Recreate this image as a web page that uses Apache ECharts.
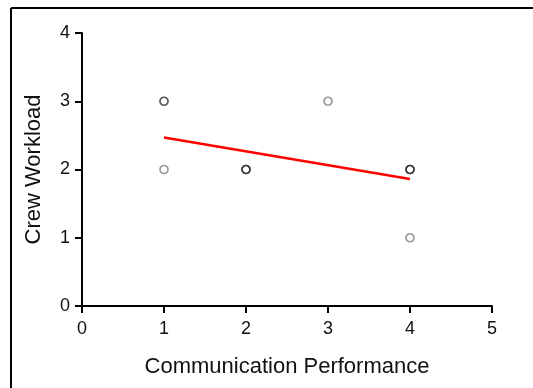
<!DOCTYPE html>
<html><head><meta charset="utf-8">
<script src="https://cdn.jsdelivr.net/npm/echarts@6/dist/echarts.min.js"></script>
<style>html,body{margin:0;padding:0;background:#fff}#c{width:533px;height:388px}</style>
</head><body><div id="c"></div>
<script>
// Data (duplicates = overlapping observations, darker where overlapping)
const commPerf   = [1, 1, 1, 2, 2, 2, 3, 4, 4, 4, 4];
const crewLoad   = [3, 3, 2, 2, 2, 2, 3, 2, 2, 2, 1];
const fitX = [1, 4];
const fitY = [2.47, 1.86];
const xTicks = [0, 1, 2, 3, 4, 5];
const yTicks = [0, 1, 2, 3, 4];

const chart = echarts.init(document.getElementById('c'));
const font = 'Liberation Sans, Arial, sans-serif';
chart.setOption({
  animation: false,
  grid: {left: 82, top: 33, right: 41, bottom: 82},
  xAxis: {
    type: 'value', min: xTicks[0], max: xTicks[xTicks.length-1], interval: 1,
    name: 'Communication Performance', nameLocation: 'middle', nameGap: 50,
    nameTextStyle: {fontFamily: font, fontSize: 22, color: '#111'},
    axisLine: {lineStyle: {color: '#000', width: 2}},
    axisTick: {show: true, length: 7, lineStyle: {color: '#000', width: 2}},
    axisLabel: {fontFamily: font, fontSize: 18, color: '#111', margin: 14},
    splitLine: {show: false}
  },
  yAxis: {
    type: 'value', min: yTicks[0], max: yTicks[yTicks.length-1], interval: 1,
    name: 'Crew Workload', nameLocation: 'middle', nameGap: 37,
    nameTextStyle: {fontFamily: font, fontSize: 22, color: '#111'},
    axisLine: {show: true, lineStyle: {color: '#000', width: 2}},
    axisTick: {show: true, length: 7, lineStyle: {color: '#000', width: 2}},
    axisLabel: {fontFamily: font, fontSize: 18, color: '#111', margin: 12},
    splitLine: {show: false}
  },
  graphic: [
    {type: 'line', shape: {x1: 11, y1: 8, x2: 533, y2: 8}, style: {stroke: '#000', lineWidth: 2}},
    {type: 'line', shape: {x1: 11, y1: 8, x2: 11, y2: 388}, style: {stroke: '#000', lineWidth: 2}}
  ],
  series: [
    {
      type: 'scatter',
      data: commPerf.map((x, i) => [x, crewLoad[i]]),
      symbol: 'circle', symbolSize: 8,
      itemStyle: {color: 'rgba(255,255,255,0)', borderColor: 'rgba(0,0,0,0.5)', borderWidth: 1.7},
      z: 3
    },
    {
      type: 'line',
      data: fitX.map((x, i) => [x, fitY[i]]),
      symbol: 'none',
      lineStyle: {color: '#ff0000', width: 2.5},
      z: 2
    }
  ]
});
</script></body></html>
